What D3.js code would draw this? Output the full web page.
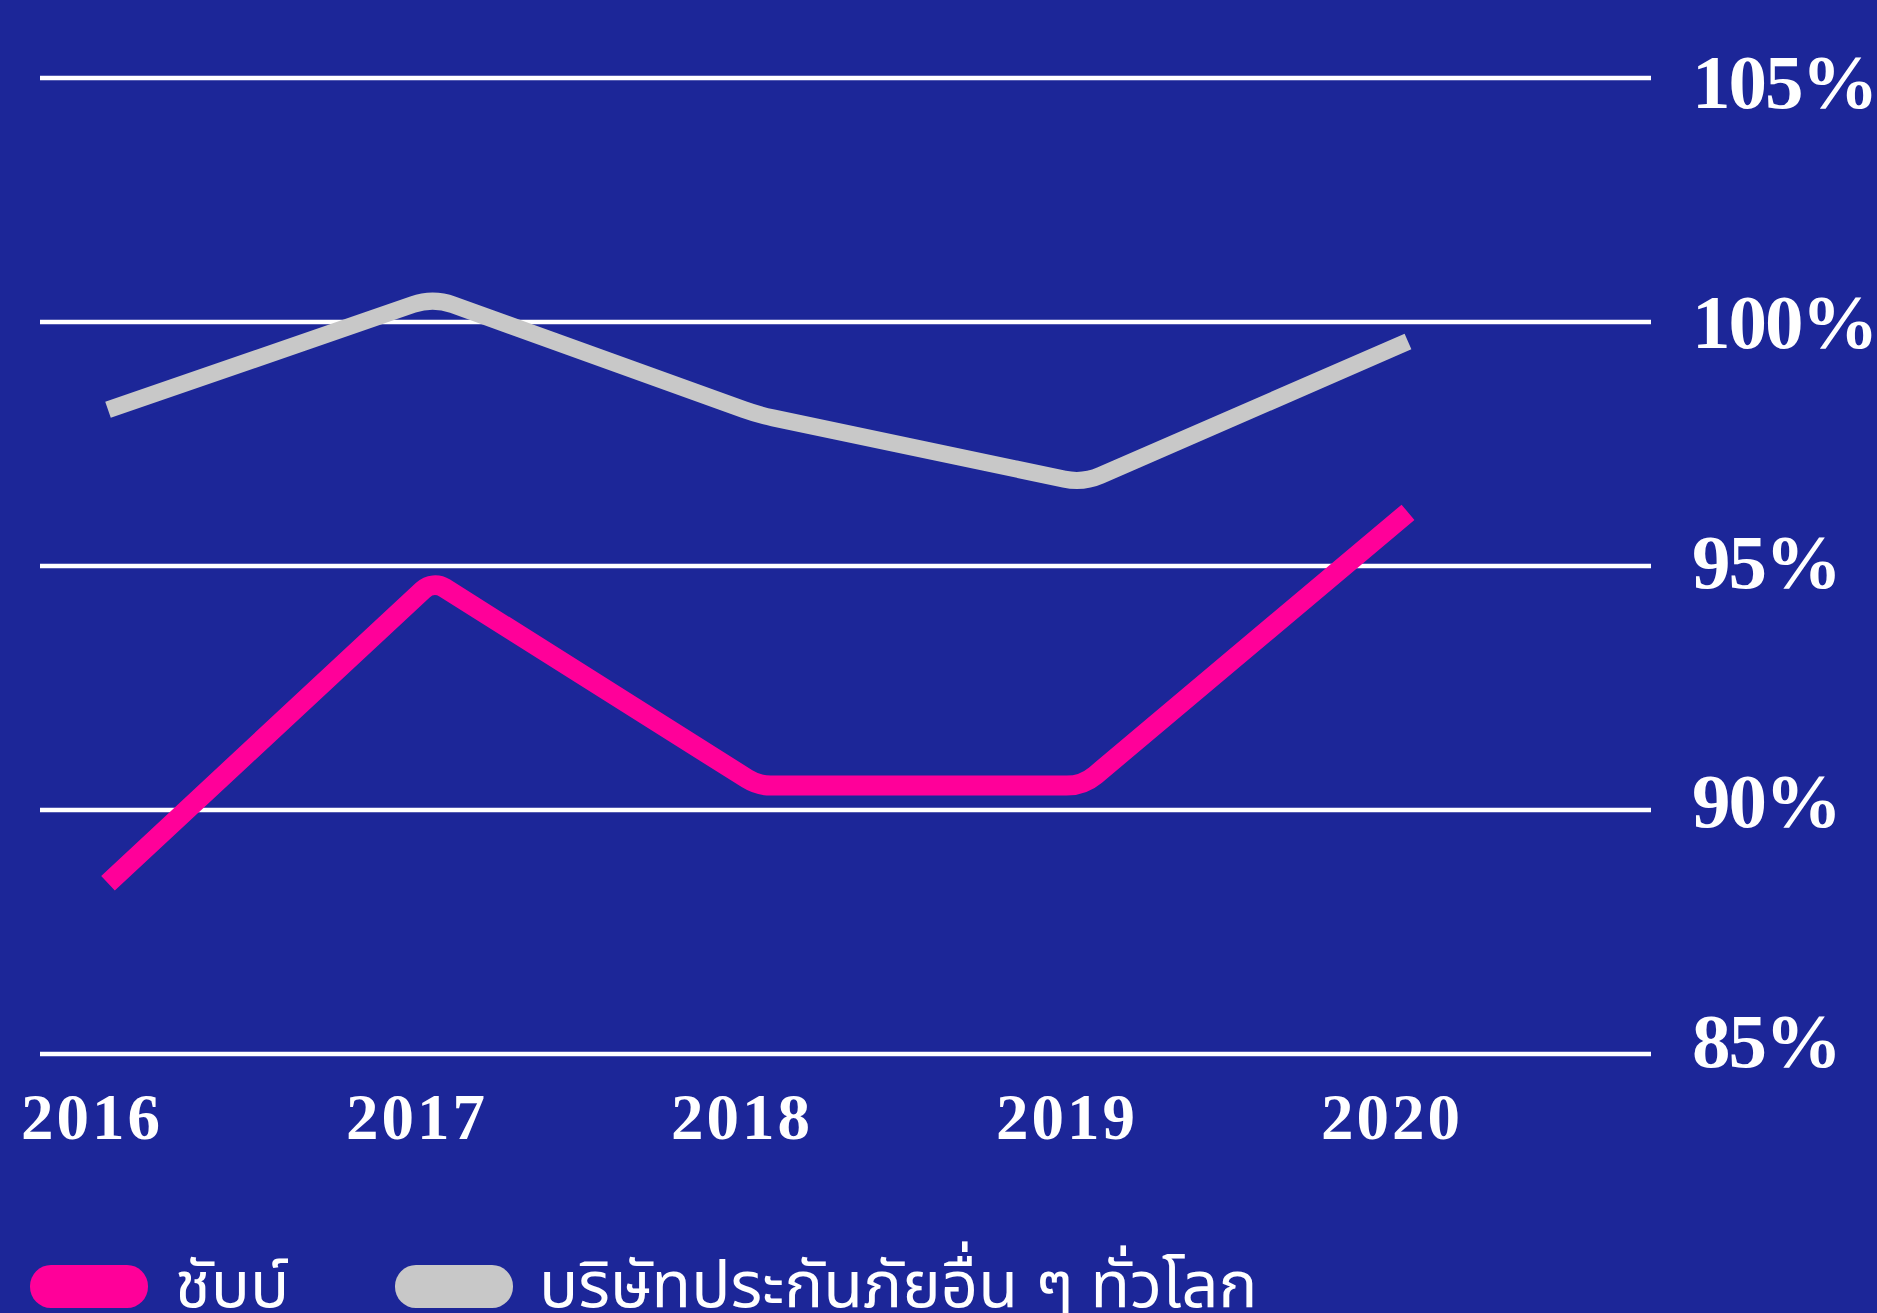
<!DOCTYPE html>
<html>
<head>
<meta charset="utf-8">
<script src="https://cdn.jsdelivr.net/npm/d3@7"></script>
<style>
  html, body { margin: 0; padding: 0; background: #1c2698; overflow: hidden; }
  svg { display: block; }
</style>
</head>
<body>
<svg id="chart" width="1877" height="1313"></svg>
<script>
// ---- data ----
const years = ["2016", "2017", "2018", "2019", "2020"];
const chubb = [88.5, 94.7, 90.5, 90.5, 96.1];
const others = [98.2, 100.5, 98.1, 96.7, 99.6];
const yTicks = [85, 90, 95, 100, 105];
const yTickLabels = ["85%", "90%", "95%", "100%", "105%"];
const seriesNames = ["ชับบ์", "บริษัทประกันภัยอื่น ๆ ทั่วโลก"];

// ---- styles ----
const W = 1877, H = 1313;
const BG = "#1c2698";
const PINK = "#ff0099";
const GREY = "#c8c8c8";
const serif = "'Liberation Serif', 'DejaVu Serif', serif";
const thai = "'Noto Sans Thai', 'Noto Sans Thai UI', 'Noto Sans', sans-serif";

const svg = d3.select("#chart");
svg.append("rect").attr("width", W).attr("height", H).attr("fill", BG);

const x = d3.scalePoint().domain(years).range([108, 1408]);
const y = d3.scaleLinear().domain([85, 105]).range([1054, 78]);
const yLab = d3.scaleLinear().domain([85, 105]).range([1067, 108]);

// gridlines
svg.append("g").selectAll("line").data(yTicks).join("line")
  .attr("x1", 40).attr("x2", 1651)
  .attr("y1", d => y(d)).attr("y2", d => y(d))
  .attr("stroke", "#ffffff").attr("stroke-width", 4.5);

// y tick labels
svg.append("g").selectAll("text").data(yTicks).join("text")
  .attr("x", 1692).attr("y", d => yLab(d))
  .attr("fill", "#fff")
  .attr("font-family", serif).attr("font-weight", "bold")
  .attr("font-size", 77).attr("letter-spacing", -2)
  .text((d, i) => yTickLabels[i]);

// x labels
svg.append("g").selectAll("text").data(years).join("text")
  .attr("x", d => x(d) - 16).attr("y", 1139)
  .attr("text-anchor", "middle")
  .attr("fill", "#fff")
  .attr("font-family", serif).attr("font-weight", "bold")
  .attr("font-size", 65).attr("letter-spacing", 3)
  .text(d => d);

// rounded-corner curve using arcTo
function roundedCurve(radii) {
  return function(context) {
    let pts;
    return {
      areaStart() {}, areaEnd() {},
      lineStart() { pts = []; },
      point(px, py) { pts.push([+px, +py]); },
      lineEnd() {
        if (!pts.length) return;
        context.moveTo(pts[0][0], pts[0][1]);
        for (let i = 1; i < pts.length - 1; i++) {
          const r = radii[i] || 0;
          if (r > 0) context.arcTo(pts[i][0], pts[i][1], pts[i + 1][0], pts[i + 1][1], r);
          else context.lineTo(pts[i][0], pts[i][1]);
        }
        context.lineTo(pts[pts.length - 1][0], pts[pts.length - 1][1]);
      }
    };
  };
}

const series = [
  { values: others, color: GREY, width: 17, radii: [0, 60, 220, 60, 0] },
  { values: chubb, color: PINK, width: 20, radii: [0, 18, 45, 45, 0] }
];

series.forEach(s => {
  const line = d3.line()
    .x((d, i) => x(years[i]))
    .y(d => y(d))
    .curve(roundedCurve(s.radii));
  svg.append("path")
    .attr("d", line(s.values))
    .attr("fill", "none")
    .attr("stroke", s.color)
    .attr("stroke-width", s.width)
    .attr("stroke-linejoin", "round")
    .attr("stroke-linecap", "butt");
});

// legend
const legend = [
  { name: seriesNames[0], color: PINK, px: 30, tx: 175 },
  { name: seriesNames[1], color: GREY, px: 395, tx: 539 }
];
const lg = svg.append("g");
legend.forEach(l => {
  lg.append("rect").attr("x", l.px).attr("y", 1265).attr("width", 118).attr("height", 43)
    .attr("rx", 21).attr("fill", l.color);
  lg.append("text").attr("x", l.tx).attr("y", 1307)
    .attr("fill", "#fff").attr("font-family", thai).attr("font-size", 65)
    .text(l.name);
});
</script>
</body>
</html>
